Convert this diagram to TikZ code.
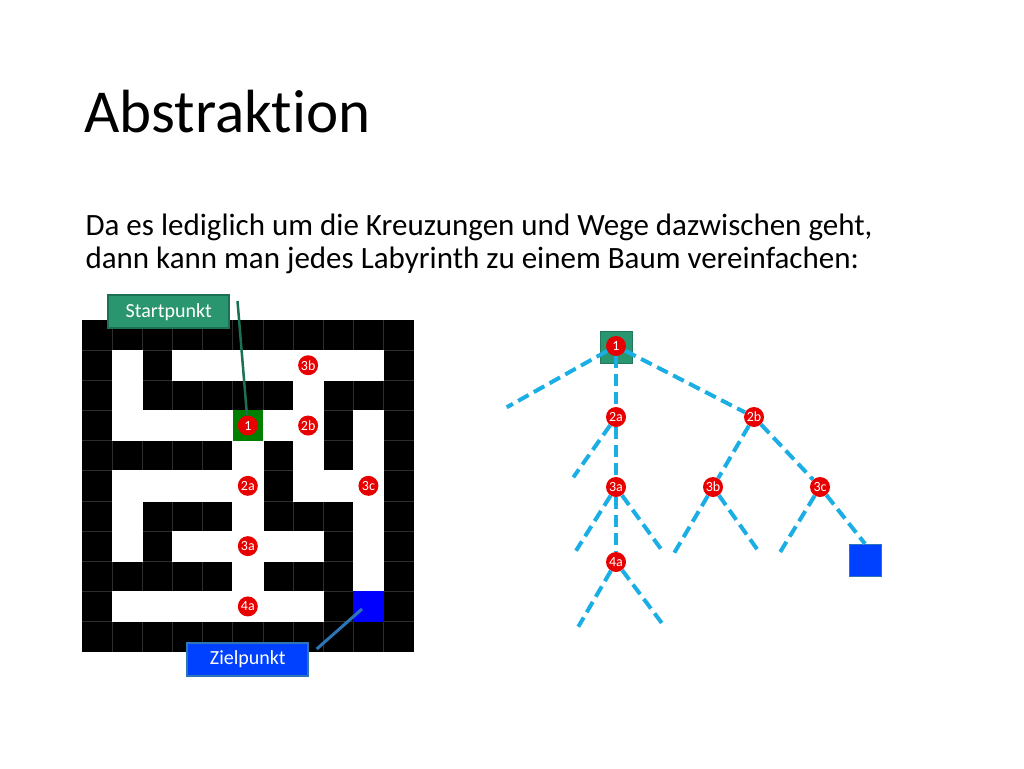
\documentclass[tikz,border=0pt]{standalone}
\usepackage{fontspec}
\setmainfont{Carlito}[Ligatures=NoCommon]
\definecolor{punktrot}{RGB}{232,0,0}
\definecolor{wegblau}{RGB}{27,174,228}
\definecolor{startgruen}{RGB}{42,150,112}
\definecolor{startrand}{RGB}{28,112,86}
\definecolor{zielblau}{RGB}{0,64,255}
\definecolor{zielrand}{RGB}{46,117,182}
\definecolor{fuge}{RGB}{45,45,45}
\begin{document}
\begin{tikzpicture}[x=1pt,y=-1pt,
    dot/.style={circle,fill=punktrot,text=white,inner sep=0pt,minimum size=20pt,font=\fontsize{14}{14}\selectfont},
    weg/.style={line width=4pt,color=wegblau,dash pattern=on 12pt off 6pt},
    schild/.style={rectangle,text=white,minimum width=121pt,minimum height=33pt,line width=1.5pt,font=\fontsize{20}{20}\selectfont}]
\useasboundingbox (0,0) rectangle (1024,768);
% Text
\node[anchor=base west,font=\fontsize{61}{61}\selectfont] (titel) at (81,132) {Abstraktion};
\node[anchor=base west,font=\fontsize{31}{34}\selectfont] (zeile1) at (82,235) {Da es lediglich um die Kreuzungen und Wege dazwischen geht,};
\node[anchor=base west,font=\fontsize{31}{34}\selectfont] (zeile2) at (82,268.5) {dann kann man jedes Labyrinth zu einem Baum vereinfachen:};
% Labyrinth
\fill[black] (82,320) rectangle +(331.65,331.65);
\foreach \i in {1,...,10}{
  \draw[fuge,line width=.6pt] ({82+\i*30.15},320)--+(0,331.65);
  \draw[fuge,line width=.6pt] (82,{320+\i*30.15})--+(331.65,0);
}
\foreach \r/\cl in {1/{1,3,4,5,6,7,8,9},2/{1,7},3/{1,2,3,4,6,7,9},4/{5,7,9},5/{1,2,3,4,5,7,8,9},6/{1,5,9},7/{1,3,4,5,6,7,9},8/{5,9},9/{1,2,3,4,5,6,7}}
  \foreach \c in \cl
    \filldraw[white,line width=.8pt] ({82+\c*30.15},{320+\r*30.15}) rectangle +(30.15,30.15);
\fill[green!50!black] ({82+5*30.15},{320+3*30.15}) rectangle +(30.15,30.15);
\fill[blue] ({82+9*30.15},{320+9*30.15}) rectangle +(30.15,30.15);
\foreach \n/\r/\c in {1/3/5,2a/5/5,2b/3/7,3a/7/5,3b/1/7,3c/5/9,4a/9/5}
  \node[dot] (m\n) at ({82+(\c+.5)*30.15},{320+(\r+.5)*30.15}) {\n};
% Schilder
\node[schild,fill=startgruen,draw=startrand] (start) at (168.7,311.7) {Startpunkt};
\node[schild,fill=zielblau,draw=zielrand,line width=2pt] (zielschild) at (247.8,659.2) {Zielpunkt};
\coordinate (startende) at (237.5,301);
\draw[startrand,line width=2.5pt] (startende)--(m1);
\coordinate (zielanfang) at (316.7,649);
\coordinate (zielende) at (362,609);
\draw[zielrand,line width=3pt] (zielanfang)--(zielende);
% Baum
\node[rectangle,fill=startgruen,draw=startgruen!80!black,minimum size=32pt,inner sep=0pt] (wurzel) at (616.2,347.5) {};
\node[rectangle,fill=zielblau,draw=zielrand,minimum size=32pt,inner sep=0pt] (ziel) at (865,560) {};
\node[dot] (t1) at (616,346) {1};
\node[dot] (t2a) at (616,417) {2a};
\node[dot] (t2b) at (754,417) {2b};
\node[dot] (t3a) at (616,487) {3a};
\node[dot] (t3b) at (713,487) {3b};
\node[dot] (t3c) at (820,487) {3c};
\node[dot] (t4a) at (616,562) {4a};
\coordinate (e1) at (506.7,407.3);
\coordinate (e2) at (573.3,477.3);
\coordinate (e3) at (576,550.7);
\coordinate (e4) at (661.7,550);
\coordinate (e5) at (578.3,626.7);
\coordinate (e6) at (663.3,625);
\coordinate (e7) at (674,553.3);
\coordinate (e8) at (759.3,552.3);
\coordinate (e9) at (780,552.3);
\draw[weg] (t1)--(e1);
\draw[weg] (t1)--(t2a);
\draw[weg] (t1)--(t2b);
\draw[weg] (t2a)--(e2);
\draw[weg] (t2a)--(t3a);
\draw[weg] (t3a)--(e3);
\draw[weg] (t3a)--(e4);
\draw[weg] (t3a)--(t4a);
\draw[weg] (t4a)--(e5);
\draw[weg] (t4a)--(e6);
\draw[weg] (t2b)--(t3b);
\draw[weg] (t2b)--(t3c);
\draw[weg] (t3b)--(e7);
\draw[weg] (t3b)--(e8);
\draw[weg] (t3c)--(e9);
\draw[weg] (t3c)--(ziel.north);
\end{tikzpicture}
\end{document}
